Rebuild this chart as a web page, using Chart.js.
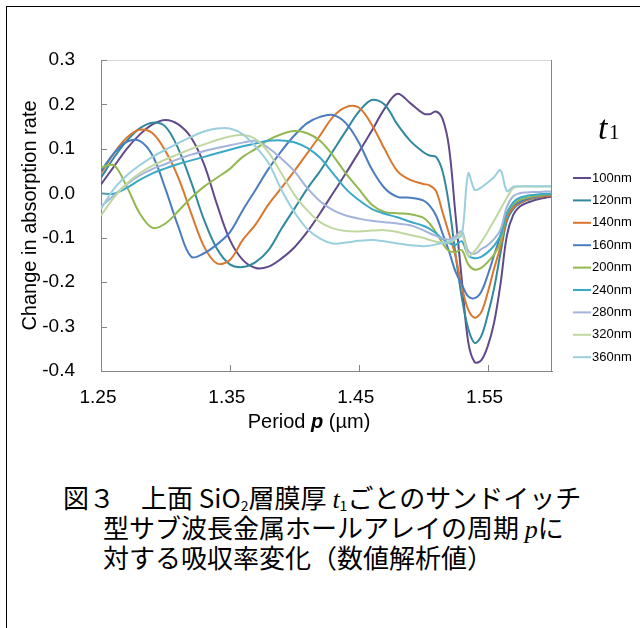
<!DOCTYPE html>
<html>
<head>
<meta charset="utf-8">
<script src="https://cdn.jsdelivr.net/npm/chart.js@4.4.0/dist/chart.umd.min.js"></script>
<style>
  html, body { margin: 0; padding: 0; background: #fff; }
  #wrap { position: relative; width: 643px; height: 628px; overflow: hidden; }
  #frame { position: absolute; left: 6px; top: 6px; width: 633px; height: 640px;
           border-top: 1px solid #000; border-left: 1px solid #000; }
  #chart { position: absolute; left: 0; top: 0; }
  .cap { position: absolute; font-family: "Noto Sans CJK JP"; font-size: 26px; line-height: 30px;
         color: #000; white-space: nowrap; }
  .cap sub { font-size: 14px; vertical-align: baseline; position: relative; top: 3px; }
  .cap .v { font-family: "Liberation Serif", serif; font-style: italic; }
</style>
</head>
<body>
<div id="wrap">
  <div id="frame"></div>
  <canvas id="chart" width="643" height="460"></canvas>
  <div class="cap" style="left:63px;top:482px">図３　上面 SiO<sub>2</sub>層膜厚 <span class="v">t</span><sub>1</sub>ごとのサンドイッチ</div>
  <div class="cap" style="left:103px;top:512px">型サブ波長金属ホールアレイの周期 <span class="v">p</span>に</div>
  <div class="cap" style="left:103px;top:542px">対する吸収率変化（数値解析値）</div>
</div>
<script>
// period p (um)
const periods = [
  1.25, 1.26, 1.27, 1.28, 1.29, 1.30, 1.31, 1.32, 1.33, 1.34, 1.35, 1.36, 1.37,
  1.38, 1.39, 1.40, 1.41, 1.42, 1.43, 1.44, 1.45, 1.46, 1.47, 1.48, 1.49, 1.50,
  1.505, 1.51, 1.515, 1.52, 1.525, 1.53, 1.535, 1.54, 1.545, 1.55,
  1.555, 1.56, 1.565, 1.57, 1.575, 1.58, 1.585, 1.59, 1.595, 1.60
];

const t100 = [
  0.020, 0.060, 0.100, 0.132, 0.155, 0.165, 0.155, 0.125, 0.065, -0.025, -0.105, -0.150, -0.168,
  -0.165, -0.147, -0.122, -0.087, -0.045, 0.000, 0.045, 0.092, 0.140, 0.190, 0.224, 0.203, 0.180,
  0.178, 0.184, 0.168, 0.105, -0.045, -0.195, -0.335, -0.380, -0.376, -0.345,
  -0.292, -0.205, -0.095, -0.048, -0.030, -0.022, -0.017, -0.013, -0.010, -0.008
];
const t120 = [
  0.035, 0.080, 0.118, 0.146, 0.159, 0.150, 0.100, 0.025, -0.060, -0.125, -0.160, -0.166, -0.155,
  -0.128, -0.080, -0.035, 0.010, 0.050, 0.095, 0.140, 0.183, 0.210, 0.200, 0.155, 0.118, 0.093,
  0.085, 0.082, 0.050, -0.025, -0.135, -0.235, -0.305, -0.337, -0.322, -0.275,
  -0.215, -0.135, -0.062, -0.035, -0.023, -0.016, -0.012, -0.008, -0.006, -0.004
];
const t140 = [
  0.045, 0.090, 0.125, 0.143, 0.135, 0.095, 0.035, -0.045, -0.120, -0.158, -0.150, -0.105, -0.070,
  -0.025, 0.012, 0.050, 0.090, 0.130, 0.172, 0.194, 0.193, 0.155, 0.100, 0.050, 0.030, 0.021,
  0.018, 0.005, -0.042, -0.090, -0.140, -0.210, -0.262, -0.280, -0.268, -0.225,
  -0.170, -0.120, -0.055, -0.032, -0.022, -0.015, -0.011, -0.008, -0.006, -0.005
];
const t160 = [
  0.050, 0.090, 0.116, 0.118, 0.085, 0.010, -0.075, -0.143, -0.135, -0.115, -0.088, -0.038, 0.008,
  0.055, 0.095, 0.130, 0.158, 0.172, 0.176, 0.158, 0.115, 0.055, 0.012, -0.008, -0.010, -0.016,
  -0.028, -0.050, -0.090, -0.130, -0.175, -0.205, -0.232, -0.236, -0.222, -0.185,
  -0.140, -0.095, -0.045, -0.027, -0.019, -0.013, -0.009, -0.006, -0.004, -0.002
];
const t200 = [
  0.058, 0.063, 0.015, -0.045, -0.078, -0.068, -0.040, -0.010, 0.015, 0.035, 0.055, 0.082, 0.100,
  0.120, 0.133, 0.140, 0.135, 0.118, 0.085, 0.045, 0.010, -0.025, -0.042, -0.045, -0.047, -0.055,
  -0.068, -0.088, -0.112, -0.130, -0.132, -0.128, -0.160, -0.172, -0.168, -0.155,
  -0.138, -0.110, -0.045, -0.025, -0.015, -0.010, -0.007, -0.005, -0.003, -0.002
];
const t240 = [
  0.000, -0.001, 0.012, 0.030, 0.045, 0.056, 0.066, 0.074, 0.082, 0.090, 0.098, 0.106, 0.112,
  0.118, 0.119, 0.115, 0.102, 0.080, 0.045, 0.010, -0.015, -0.035, -0.046, -0.054, -0.064, -0.073,
  -0.080, -0.090, -0.103, -0.112, -0.116, -0.108, -0.140, -0.146, -0.143, -0.133,
  -0.118, -0.095, -0.045, -0.020, -0.010, -0.006, -0.004, -0.002, -0.001, -0.001
];
const t280 = [
  -0.030, -0.005, 0.020, 0.040, 0.055, 0.066, 0.077, 0.087, 0.095, 0.102, 0.108, 0.114, 0.118,
  0.102, 0.078, 0.050, 0.012, -0.018, -0.038, -0.050, -0.057, -0.062, -0.065, -0.068, -0.072, -0.083,
  -0.090, -0.096, -0.102, -0.104, -0.097, -0.086, -0.130, -0.136, -0.126, -0.117,
  -0.103, -0.082, -0.030, -0.006, 0.000, 0.002, 0.003, 0.003, 0.004, 0.004
];
const t320 = [
  -0.050, -0.010, 0.022, 0.045, 0.062, 0.076, 0.088, 0.100, 0.110, 0.120, 0.128, 0.131, 0.122,
  0.092, 0.045, -0.003, -0.038, -0.065, -0.079, -0.085, -0.086, -0.084, -0.083, -0.087, -0.094, -0.100,
  -0.105, -0.109, -0.111, -0.111, -0.104, -0.090, -0.140, -0.130, -0.110, -0.087,
  -0.062, -0.036, -0.010, 0.012, 0.015, 0.015, 0.015, 0.015, 0.015, 0.015
];
const t360 = [
  -0.035, 0.010, 0.040, 0.063, 0.082, 0.098, 0.113, 0.127, 0.139, 0.146, 0.146, 0.133, 0.105,
  0.068, 0.008, -0.042, -0.080, -0.102, -0.113, -0.111, -0.107, -0.105, -0.108, -0.113, -0.117, -0.119,
  -0.118, -0.115, -0.112, -0.109, -0.102, -0.094, 0.045, 0.008, 0.013, 0.024,
  0.036, 0.052, 0.005, 0.015, 0.016, 0.016, 0.016, 0.016, 0.016, 0.016
];

const seriesLabels = ["100nm", "120nm", "140nm", "160nm", "200nm", "240nm", "280nm", "320nm", "360nm"];
const seriesValues = [t100, t120, t140, t160, t200, t240, t280, t320, t360];
const seriesColors = ["#604a8b", "#31899e", "#d9772f", "#4a7dbf", "#93b84f", "#3aa9c8", "#a3b3d9", "#c1d7a2", "#9ccfde"];

const xTickValues = [1.25, 1.35, 1.45, 1.55];
const yTickValues = [-0.4, -0.3, -0.2, -0.1, 0.0, 0.1, 0.2, 0.3];

const FONT = "'Liberation Sans', Arial, sans-serif";

// frame edges, inner tick marks, x title and the t1 legend
const extras = {
  id: "extras",
  afterDraw(chart) {
    const { ctx, chartArea: a, scales: { x, y } } = chart;
    ctx.save();
    ctx.lineWidth = 1;
    ctx.strokeStyle = "#d9d9d9";
    ctx.beginPath();
    ctx.moveTo(a.left, a.top + 0.5);
    ctx.lineTo(a.right, a.top + 0.5);
    ctx.stroke();
    ctx.strokeStyle = "#868686";
    ctx.beginPath();
    ctx.moveTo(a.right - 0.5, a.top);
    ctx.lineTo(a.right - 0.5, a.bottom);
    y.ticks.forEach((t) => {
      const py = Math.round(y.getPixelForValue(t.value)) + 0.5;
      ctx.moveTo(a.left, py);
      ctx.lineTo(a.left + 6, py);
    });
    x.ticks.forEach((t) => {
      const px = Math.round(x.getPixelForValue(t.value)) + 0.5;
      ctx.moveTo(px, a.bottom);
      ctx.lineTo(px, a.bottom - 6);
    });
    ctx.stroke();

    // x axis title: Period p (um)
    const parts = [
      ["Period ", "20px " + FONT],
      ["p", "italic bold 20px " + FONT],
      [" (\u00b5m)", "20px " + FONT],
    ];
    let w = 0;
    parts.forEach((p) => { ctx.font = p[1]; w += ctx.measureText(p[0]).width; });
    let tx = 309 - w / 2;
    ctx.fillStyle = "#000";
    ctx.textBaseline = "middle";
    ctx.textAlign = "left";
    parts.forEach((p) => {
      ctx.font = p[1];
      ctx.fillText(p[0], tx, 422);
      tx += ctx.measureText(p[0]).width;
    });

    // legend
    ctx.textBaseline = "alphabetic";
    ctx.font = "italic 34px 'Liberation Serif', serif";
    ctx.fillText("t", 598, 139);
    ctx.font = "21px 'Liberation Serif', serif";
    ctx.fillText("1", 609, 139);
    ctx.font = "13px " + FONT;
    ctx.textBaseline = "middle";
    ctx.lineWidth = 2;
    seriesLabels.forEach((lab, i) => {
      const ly = 178 + i * 22.4;
      ctx.strokeStyle = seriesColors[i];
      ctx.beginPath();
      ctx.moveTo(573, ly);
      ctx.lineTo(591, ly);
      ctx.stroke();
      ctx.fillText(lab, 592, ly);
    });
    ctx.restore();
  },
};

new Chart(document.getElementById("chart"), {
  type: "line",
  data: {
    datasets: seriesLabels.map((lab, i) => ({
      label: lab,
      data: periods.map((p, k) => ({ x: p, y: seriesValues[i][k] })),
      borderColor: seriesColors[i],
      borderWidth: 2,
      pointRadius: 0,
      tension: 0.35,
      order: seriesLabels.length - 1 - i,
    })),
  },
  options: {
    responsive: false,
    animation: false,
    devicePixelRatio: 1,
    layout: { padding: { top: 60, right: 91, left: 0, bottom: 0 } },
    plugins: { legend: { display: false }, tooltip: { enabled: false } },
    scales: {
      x: {
        type: "linear",
        min: 1.25,
        max: 1.6,
        afterBuildTicks: (s) => { s.ticks = xTickValues.map((v) => ({ value: v })); },
        afterFit: (s) => { s.height = 89; },
        grid: { drawOnChartArea: false, drawTicks: false },
        border: { color: "#868686" },
        ticks: {
          padding: 15,
          color: "#000",
          font: { family: FONT, size: 19 },
          maxRotation: 0,
          labelOffset: -3,
          callback: (v) => v.toFixed(2),
        },
      },
      y: {
        type: "linear",
        min: -0.4,
        max: 0.3,
        afterBuildTicks: (s) => { s.ticks = yTickValues.map((v) => ({ value: v })); },
        afterFit: (s) => { s.width = 101; },
        grid: { drawOnChartArea: false, drawTicks: false },
        border: { color: "#868686" },
        title: {
          display: true,
          text: "Change in absorption rate",
          color: "#000",
          font: { family: FONT, size: 20 },
          padding: { top: 18, bottom: 0 },
        },
        ticks: {
          padding: 26,
          color: "#000",
          font: { family: FONT, size: 19 },
          callback: (v) => (Math.round(v * 10) / 10).toFixed(1),
        },
      },
    },
  },
  plugins: [extras],
});
</script>
</body>
</html>
